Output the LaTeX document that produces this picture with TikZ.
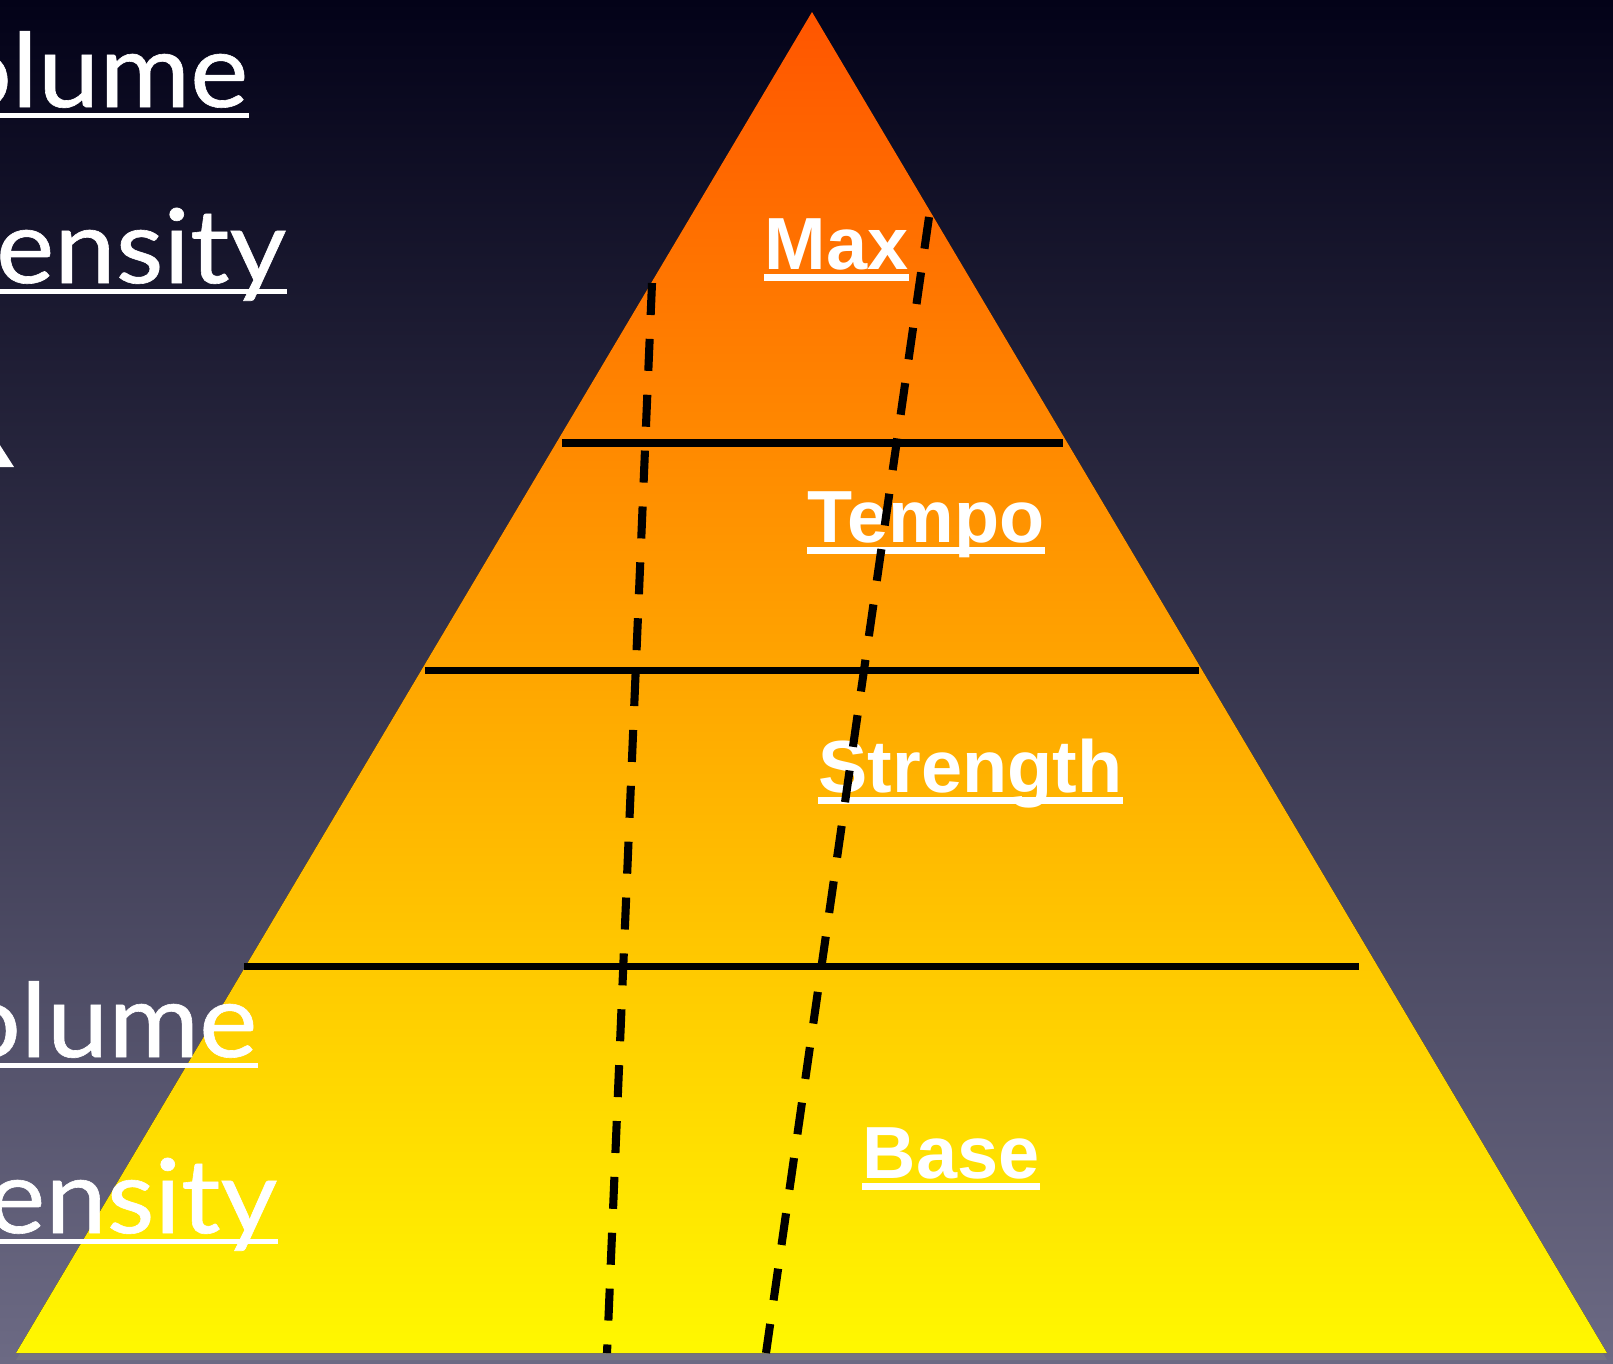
\documentclass[tikz,border=0pt]{standalone}
\usepackage{fontspec}
\usepackage{xcolor}
\usepackage{tikz}
\usetikzlibrary{shadows}

\newfontfamily\lblfont{Liberation Sans}
\newfontfamily\sidefont{Lato}[FakeStretch=1.07, FakeBold=0.6]

\definecolor{bgtop}{RGB}{3,2,24}
\definecolor{bgmid}{RGB}{36,34,70}
\definecolor{bgbot}{RGB}{108,106,132}
\definecolor{pyrtop}{RGB}{255,85,0}
\definecolor{pyrbot}{RGB}{255,248,0}

\begin{document}
\begin{tikzpicture}[x=0.01cm, y=-0.01cm,
        lbl/.style={inner sep=0pt, text=white,
                    font=\lblfont\bfseries\fontsize{21}{24}\selectfont},
        side/.style={inner sep=0pt, text=white,
                     font=\sidefont\fontsize{29.3}{34}\selectfont},
        uline/.style={draw=white, line width=2pt},
        suline/.style={draw=white, line width=1.4pt},
        band/.style={line width=2pt},
        guide/.style={line width=2.3pt, dash pattern=on 9.1pt off 6.8pt}
    ]
        % ── Background ───────────────────────────────────────────────────
        \useasboundingbox (0,0) rectangle (1613,1363);
        \fill[top color=bgtop, middle color=bgmid, bottom color=bgbot]
            (0,0) rectangle (1613,1363);

        \begin{scope}
        \clip (0,0) rectangle (1613,1363);

        % ── Pyramid ──────────────────────────────────────────────────────
        \coordinate (apex)  at (812, 12);
        \coordinate (baseL) at (16, 1353);
        \coordinate (baseR) at (1607, 1353);
        \fill[top color=pyrtop, bottom color=pyrbot,
              drop shadow={shadow xshift=0pt, shadow yshift=-2pt, opacity=.45}]
            (apex) -- (baseR) -- (baseL) -- cycle;

        % ── Level labels ─────────────────────────────────────────────────
        \node[lbl, anchor=base west] (max)      at (764, 269)  {Max};
        \node[lbl, anchor=base west] (tempo)    at (807, 542)  {Tempo};
        \node[lbl, anchor=base west] (strength) at (818, 792)  {Strength};
        \node[lbl, anchor=base west] (base)     at (862, 1178) {Base};
        \foreach \n in {max, tempo, strength, base}
            \draw[uline] ([yshift=-2.5pt]\n.base west) -- ([yshift=-2.5pt]\n.base east);

        % ── Side words, cut by the left edge ─────────────────────────────
        \node[side, anchor=base east] (vol1) at (249, 107)  {Volume};
        \node[side, anchor=base east] (int1) at (287, 283)  {Intensity};
        \node[side, anchor=base east] (vol2) at (258, 1057) {Volume};
        \node[side, anchor=base east] (int2) at (278, 1233) {Intensity};
        \foreach \n in {vol1, int1, vol2, int2}
            \draw[suline] ([yshift=-2.3pt]\n.base west) -- ([yshift=-2.3pt]\n.base east);
        \fill[white] (-20, 414) -- (14, 467) -- (-20, 467) -- cycle;

        % ── Level borders ────────────────────────────────────────────────
        \draw[band] (562, 443) -- (1063, 443);
        \draw[band] (425, 670) -- (1199, 670);
        \draw[band] (244, 966) -- (1359, 966);

        % ── Dashed guides ────────────────────────────────────────────────
        \draw[guide] (652, 283) -- (607, 1353);
        \draw[guide] (929, 217) -- (766, 1353);
        \end{scope}
    \end{tikzpicture}
\end{document}
